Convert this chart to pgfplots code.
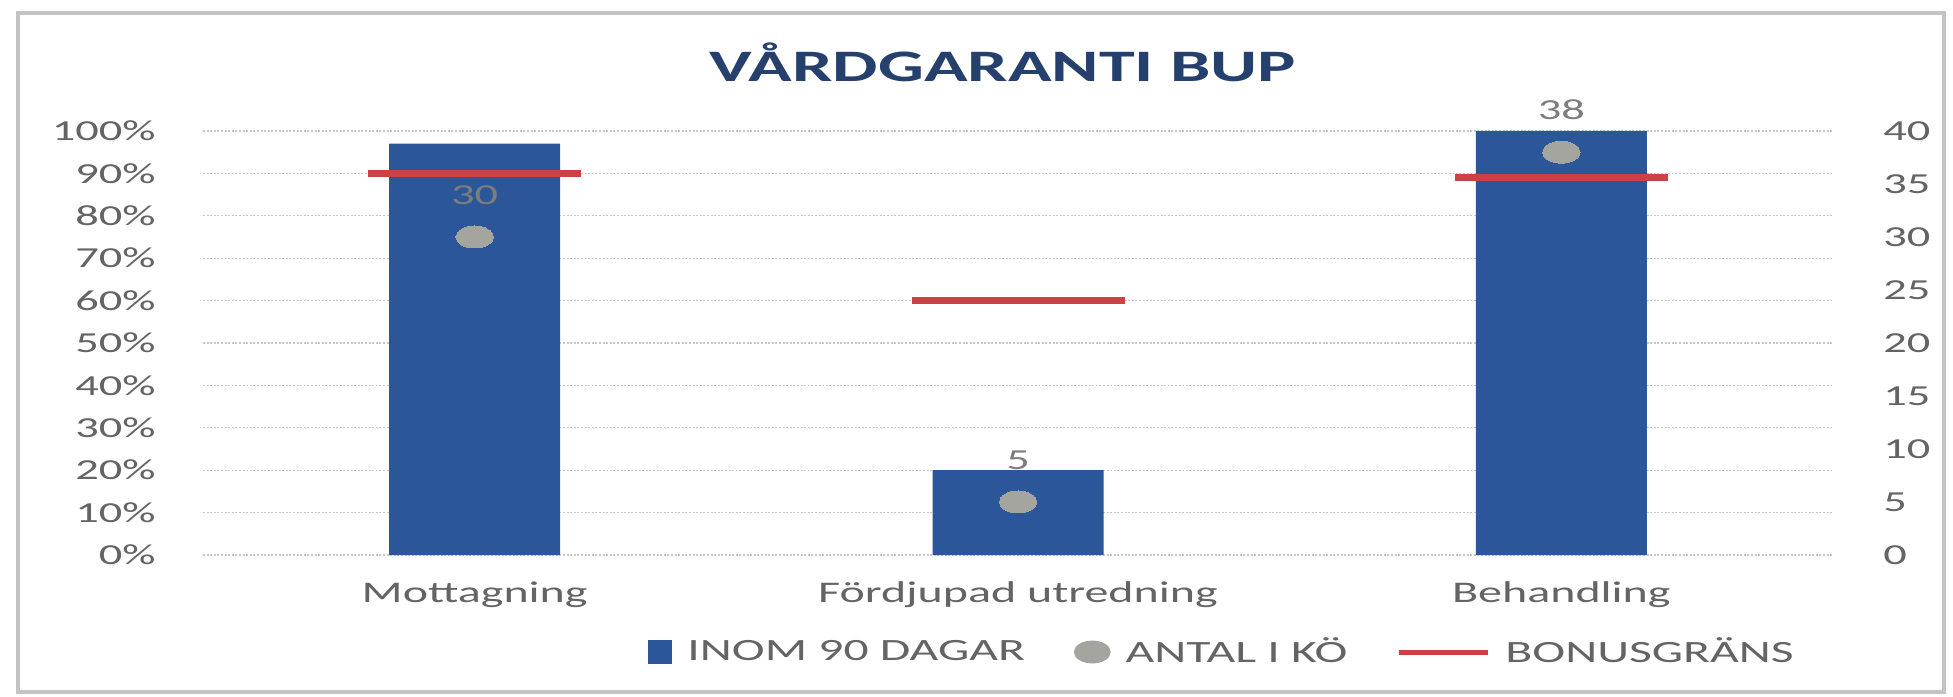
\documentclass[border=0pt]{standalone}
\usepackage{pgfplots}
\pgfplotsset{compat=1.18}
\usepackage{fontspec}
\setmainfont{Carlito}[FakeStretch=1.6]
\definecolor{barblue}{RGB}{43,87,154}
\definecolor{redline}{RGB}{205,65,70}
\definecolor{dotgray}{RGB}{165,165,160}
\definecolor{textgray}{RGB}{100,100,100}
\definecolor{labelgray}{RGB}{125,125,125}
\definecolor{titleblue}{RGB}{38,64,110}
\definecolor{gridgray}{RGB}{200,200,200}
\definecolor{framegray}{RGB}{195,195,195}
\begin{document}
\begin{tikzpicture}
\useasboundingbox (0,0) rectangle (976.5pt,348pt);
\fill[white] (0,0) rectangle (976.5pt,348pt);
\draw[framegray, line width=2pt] (9pt,2pt) rectangle (972pt,341.5pt);
\node[font=\bfseries\fontsize{22.5}{25}\selectfont, text=titleblue] at (501.5pt,317pt) {VÅRDGARANTI BUP};
\begin{axis}[
  at={(101.5pt,70.5pt)}, anchor=south west, scale only axis,
  width=815pt, height=212pt,
  xmin=-0.5, xmax=2.5, ymin=0, ymax=100,
  xtick={0,1,2}, xticklabels={Mottagning, Fördjupad utredning, Behandling},
  ytick={0,10,...,100},
  yticklabels={0\%,10\%,20\%,30\%,40\%,50\%,60\%,70\%,80\%,90\%,100\%},
  ymajorgrids, grid style={gridgray, line width=0.6pt, dash pattern=on 1pt off 0.8pt},
  axis line style={draw=none}, major tick length=0pt,
  yticklabel style={font=\fontsize{14.5}{16}\selectfont, text=textgray, anchor=east, inner sep=0pt, xshift=-23.5pt},
  xticklabel style={font=\fontsize{15}{17}\selectfont, text=textgray, anchor=base, inner sep=0pt, yshift=-23.5pt},
  clip=false,
  legend style={at={(0.273,-0.2288)}, anchor=west, draw=none, fill=none, inner sep=0pt,
    font=\fontsize{15.5}{18}\selectfont, text=textgray, legend columns=-1,
    /tikz/every odd column/.style={column sep=5.5pt},
    /tikz/every even column/.style={column sep=22.5pt}},
  legend cell align=left,
]
\addplot[ybar, bar width=85.5pt, fill=barblue, draw=none,
  legend image code/.code={\fill[barblue] (0pt,-6pt) rectangle (12pt,6pt);}]
  coordinates {(0,97) (1,20) (2,100)};
\addlegendentry{INOM 90 DAGAR}
\addlegendimage{legend image code/.code={\fill[dotgray] (9pt,0pt) ellipse [x radius=9pt, y radius=5.5pt];}}
\addlegendentry{ANTAL I KÖ}
\addplot[redline, only marks, mark=-, mark size=53.25pt, mark options={line width=3.5pt},
  legend image code/.code={\draw[redline, line width=2.5pt] (0pt,0pt) -- (44.5pt,0pt);}]
  coordinates {(0,90) (1,60) (2,89)};
\addlegendentry{BONUSGRÄNS}
\end{axis}
\begin{axis}[
  at={(101.5pt,70.5pt)}, anchor=south west, scale only axis,
  width=815pt, height=212pt,
  xmin=-0.5, xmax=2.5, ymin=0, ymax=40,
  axis x line=none, axis y line*=right,
  ytick={0,5,...,40}, yticklabels={0,5,10,15,20,25,30,35,40},
  axis line style={draw=none}, major tick length=0pt,
  yticklabel style={font=\fontsize{14.5}{16}\selectfont, text=textgray, anchor=west, inner sep=0pt, xshift=25pt},
  clip=false,
  /pgf/number format/assume math mode=true,
]
\addplot[dotgray, only marks, mark=*, mark size=5.5pt,
  mark options={xscale=1.7, fill=dotgray, draw=dotgray, line width=0pt},
  nodes near coords,
  nodes near coords style={font=\fontsize{14.5}{16}\selectfont, text=labelgray, inner sep=0pt, yshift=16.3pt}]
  coordinates {(0,30) (1,5) (2,38)};
\end{axis}
\end{tikzpicture}
\end{document}
